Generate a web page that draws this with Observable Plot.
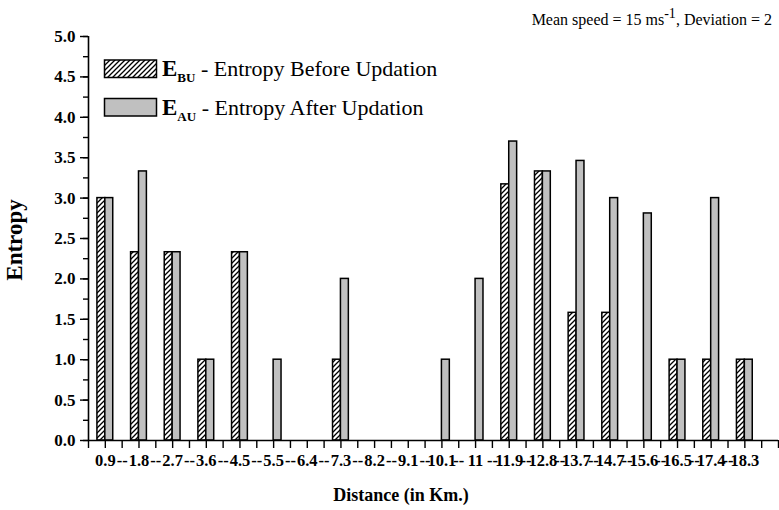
<!DOCTYPE html>
<html>
<head>
<meta charset="utf-8">
<script src="https://cdn.jsdelivr.net/npm/d3@7"></script>
<script src="https://cdn.jsdelivr.net/npm/@observablehq/plot@0.6"></script>
<style>
  html, body { margin: 0; padding: 0; background: #fff; }
  #chart svg { display: block; }
</style>
</head>
<body>
<div id="chart"></div>
<script>
const categories = ["0.9","1.8","2.7","3.6","4.5","5.5","6.4","7.3","8.2","9.1","10.1","11","11.9","12.8","13.7","14.7","15.6","16.5","17.4","18.3"];
const entropyBefore = [3.0,2.33,2.33,1.0,2.33,0,0,1.0,0,0,0,0,3.17,3.33,1.58,1.58,0,1.0,1.0,1.0];
const entropyAfter  = [3.0,3.33,2.33,1.0,2.33,1.0,0,2.0,0,0,1.0,2.0,3.7,3.33,3.46,3.0,2.81,1.0,3.0,1.0];
const yMajorTicks = [0,0.5,1,1.5,2,2.5,3,3.5,4,4.5,5];
const legendLabels = ["BU", "AU"];
const legendTexts = [" - Entropy Before Updation", " - Entropy After Updation"];

const FONT = "'Times New Roman','Liberation Serif',serif";
const BW = 0.235;

const before = categories.map((c, i) => ({i, v: entropyBefore[i]})).filter(d => d.v > 0);
const after = categories.map((c, i) => ({i, v: entropyAfter[i]})).filter(d => d.v > 0);
const idx = categories.map((c, i) => i);
const mids = categories.map((c, i) => i + 0.5);
const yMinor = d3.range(0, 5.001, 0.25);
const blank = () => "";

const plot = Plot.plot({
  width: 779,
  height: 510,
  marginLeft: 88,
  marginRight: 1,
  marginTop: 36,
  marginBottom: 70,
  style: {fontFamily: FONT, fontSize: "12px", color: "black", background: "white"},
  x: {type: "linear", domain: [-0.5, 20], axis: null},
  y: {domain: [0, 5], axis: null},
  marks: [
    Plot.rectY(before, {x1: d => d.i - BW, x2: d => d.i, y: "v", fill: "url(#hatchBU)", stroke: "black", strokeWidth: 1.5}),
    Plot.rectY(after, {x1: d => d.i, x2: d => d.i + BW, y: "v", fill: "#c0c0c0", stroke: "black", strokeWidth: 1.5}),
    Plot.ruleY([0], {x1: -0.5, x2: 20, stroke: "black", strokeWidth: 1.6}),
    Plot.ruleX([-0.5], {y1: 0, y2: 5, stroke: "black", strokeWidth: 1.6}),
    Plot.axisY({ticks: yMajorTicks, tickFormat: d3.format(".1f"), tickSize: 8, tickPadding: 5, fontWeight: "bold", fontSize: 17, label: null, strokeWidth: 1.4}),
    Plot.axisY({ticks: yMinor, tickFormat: blank, tickSize: 5, label: null, strokeWidth: 1.4}),
    Plot.axisX({ticks: d3.range(-0.5, 20.01, 0.5), tickFormat: blank, tickSize: 8, label: null, strokeWidth: 1.4}),
    Plot.text(idx, {x: d => d, frameAnchor: "bottom", dy: 25, text: d => categories[d], fontWeight: "bold", fontSize: 16.5}),
    Plot.text(mids.slice(0, -1), {x: d => d, frameAnchor: "bottom", dy: 25, text: d => "--", fontWeight: "bold", fontSize: 16.5})
  ]
});

document.getElementById("chart").appendChild(plot);
const svg = d3.select(plot);

// hatch pattern
const defs = svg.insert("defs", ":first-child");
const pat = defs.append("pattern").attr("id", "hatchBU").attr("patternUnits", "userSpaceOnUse")
  .attr("width", 5).attr("height", 5);
pat.append("rect").attr("width", 5).attr("height", 5).attr("fill", "white");
pat.append("path").attr("d", "M-1,1 L1,-1 M0,5 L5,0 M4,6 L6,4").attr("stroke", "black").attr("stroke-width", 1.3);

// y label
svg.append("text").attr("transform", "translate(22,240) rotate(-90)")
  .attr("text-anchor", "middle").attr("font-family", FONT).attr("font-weight", "bold")
  .attr("font-size", 23).text("Entropy");

// x label
svg.append("text").attr("x", 401).attr("y", 501)
  .attr("text-anchor", "middle").attr("font-family", FONT).attr("font-weight", "bold")
  .attr("font-size", 18).text("Distance (in Km.)");

// title
const t = svg.append("text").attr("x", 772).attr("y", 25).attr("text-anchor", "end")
  .attr("font-family", FONT).attr("font-size", 16);
t.append("tspan").text("Mean speed = 15 ms");
t.append("tspan").attr("dy", -7).attr("font-size", 14).text("-1");
t.append("tspan").attr("dy", 7).text(", Deviation = 2");

// legend
const fills = ["url(#hatchBU)", "#c0c0c0"];
legendLabels.forEach((lab, k) => {
  const y0 = 60 + k * 38.5;
  svg.append("rect").attr("x", 104.5).attr("y", y0).attr("width", 52).attr("height", 17.5)
    .attr("fill", fills[k]).attr("stroke", "black").attr("stroke-width", 1.5);
  const tx = svg.append("text").attr("x", 162).attr("y", y0 + 16).attr("font-family", FONT)
    .attr("text-anchor", "start");
  tx.append("tspan").attr("font-weight", "bold").attr("font-size", 23).text("E");
  tx.append("tspan").attr("font-weight", "bold").attr("font-size", 13).attr("dy", 6).text(lab);
  tx.append("tspan").attr("font-size", 22).attr("dy", -6).text(legendTexts[k]);
});
</script>
</body>
</html>
